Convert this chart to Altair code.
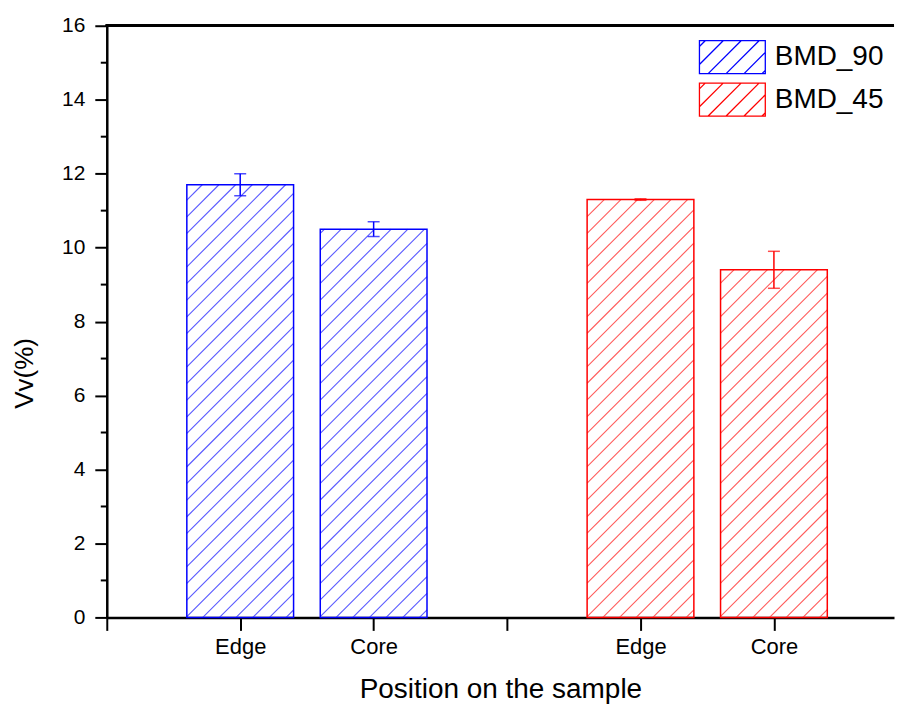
import math
import altair as alt
import pandas as pd

# ---- data ----
series = ["BMD_90", "BMD_90", "BMD_45", "BMD_45"]
position = ["Edge", "Core", "Edge", "Core"]
xpos = [1, 2, 4, 5]
values = [11.7, 10.5, 11.3, 9.4]
errors = [0.3, 0.2, 0.02, 0.5]

x_tick_values = [0, 1, 2, 3, 4, 5]
y_tick_values = [0, 2, 4, 6, 8, 10, 12, 14, 16]
y_minor_values = [1, 3, 5, 7, 9, 11, 13, 15]
series_order = ["BMD_90", "BMD_45"]
series_colors = ["#0000ff", "#ff0000"]
hatch_colors = ["#5a5aff", "#ff5a5a"]

# ---- layout constants ----
PX = 802 / 6          # pixels per x unit
PY = 593 / 16         # pixels per y unit
XMAX, YMAX = 5.9, 16
W, H = round(XMAX * PX), round(YMAX * PY)
HALF = 0.4
SPACING = 16.7
PHASE = 4.0

bars = pd.DataFrame({
    "series": series, "position": position, "xpos": xpos,
    "value": values, "err": errors,
})
bars["x0"] = bars["xpos"] - HALF
bars["x1"] = bars["xpos"] + HALF
bars["zero"] = 0.0
bars["lo"] = bars["value"] - bars["err"]
bars["hi"] = bars["value"] + bars["err"]

# hatch segments (45 degree lines) clipped to each bar
rows = []
for _, b in bars.iterrows():
    u0, u1, T = b["x0"] * PX, b["x1"] * PX, b["value"] * PY
    col = hatch_colors[series_order.index(b["series"])]
    kmin = math.floor((-u1 - PHASE) / SPACING)
    kmax = math.ceil((T - u0 - PHASE) / SPACING)
    for k in range(kmin, kmax + 1):
        c = k * SPACING + PHASE
        us = max(u0, -c)
        ue = min(u1, T - c)
        if ue > us + 0.5:
            rows.append({"hx": us / PX, "hy": (us + c) / PY,
                         "hx2": ue / PX, "hy2": (ue + c) / PY, "col": col})
hatch = pd.DataFrame(rows)

# legend symbol: rectangle with diagonal hatch (unit path)
segs = ["M-2,-1H2V1H-2Z"]
step = 1.09
c = -3.0 + 0.35
while c < 3.0:
    xa, xb = max(-2, c - 1), min(2, c + 1)
    if xb - xa > 0.05:
        segs.append(f"M{xa:.3f},{(-xa + c):.3f}L{xb:.3f},{(-xb + c):.3f}")
    c += step
legend_path = "".join(segs)

FONT = "Liberation Sans"

xscale = alt.Scale(domain=[0, XMAX], nice=False, zero=False)
yscale = alt.Scale(domain=[0, YMAX], nice=False)

x_axis = alt.Axis(
    values=x_tick_values,
    labelExpr="datum.value == 1 || datum.value == 4 ? 'Edge' : (datum.value == 2 || datum.value == 5 ? 'Core' : '')",
    tickSize=13, tickWidth=2, domainWidth=2.5, labelFontSize=22,
    labelPadding=6, title="Position on the sample", titleFontSize=28,
    titlePadding=18, labelFlush=False, labelAngle=0,
)
y_axis = alt.Axis(
    values=y_tick_values, tickSize=12, tickWidth=2, domainWidth=2.5,
    labelFontSize=21, labelPadding=10, title="Vv(%)", titleFontSize=26,
    titleX=-74, titleY=348, titleAngle=-90, titleBaseline="alphabetic",
    titleAlign="center", labelFlush=False,
)

hatch_layer = alt.Chart(hatch).mark_rule(strokeWidth=1.1).encode(
    x=alt.X("hx:Q", scale=xscale, axis=x_axis),
    y=alt.Y("hy:Q", scale=yscale, axis=y_axis),
    x2="hx2:Q",
    y2="hy2:Q",
    color=alt.Color("col:N", scale=None, legend=None),
)

bar_layer = alt.Chart(bars).mark_rect(filled=False, strokeWidth=1.5).encode(
    x=alt.X("x0:Q", scale=xscale, axis=x_axis),
    x2="x1:Q",
    y=alt.Y("value:Q", scale=yscale, axis=y_axis),
    y2="zero:Q",
    color=alt.Color(
        "series:N",
        scale=alt.Scale(domain=series_order, range=series_colors),
        legend=alt.Legend(
            title=None, orient="none", legendX=609.5, legendY=14,
            symbolType=legend_path, symbolSize=1089, symbolStrokeWidth=1.3,
            labelFontSize=28, labelFont=FONT, labelColor="black",
            labelOffset=25, rowPadding=3.5, padding=0, labelLimit=300,
        ),
    ),
)

err_layer = alt.Chart(bars).mark_rule(strokeWidth=1.5).encode(
    x=alt.X("xpos:Q", scale=xscale, axis=x_axis),
    y=alt.Y("lo:Q", scale=yscale, axis=y_axis),
    y2="hi:Q",
    stroke=alt.Stroke("series:N", scale=alt.Scale(domain=series_order, range=series_colors), legend=None),
)

cap_hi = alt.Chart(bars).mark_tick(orient="horizontal", size=12, thickness=1.5).encode(
    x=alt.X("xpos:Q", scale=xscale, axis=x_axis),
    y=alt.Y("hi:Q", scale=yscale, axis=y_axis),
    color=alt.Color("series:N", scale=alt.Scale(domain=series_order, range=series_colors), legend=None),
)
cap_lo = alt.Chart(bars).mark_tick(orient="horizontal", size=12, thickness=1.5).encode(
    x=alt.X("xpos:Q", scale=xscale, axis=x_axis),
    y=alt.Y("lo:Q", scale=yscale, axis=y_axis),
    color=alt.Color("series:N", scale=alt.Scale(domain=series_order, range=series_colors), legend=None),
)

minor = pd.DataFrame({"m": y_minor_values})
minor_layer = alt.Chart(minor).mark_rule(color="black", strokeWidth=2).encode(
    y=alt.Y("m:Q", scale=yscale, axis=y_axis),
    x=alt.value(-6),
    x2=alt.value(0),
)

top_line = alt.Chart(minor).mark_rule(color="black", strokeWidth=2.5).encode(
    x=alt.value(-1), x2=alt.value(W), y=alt.value(0),
)

chart = alt.layer(
    hatch_layer, bar_layer, err_layer, cap_hi, cap_lo, minor_layer, top_line
).resolve_scale(
    color="independent", stroke="independent"
).properties(
    width=W, height=H,
    padding={"left": 4, "top": 6, "right": 0, "bottom": 0},
).configure_view(
    stroke=None
).configure_axis(
    labelFont=FONT, titleFont=FONT, labelColor="black", titleColor="black",
    domainColor="black", tickColor="black", grid=False, titleFontWeight="normal",
)

chart.save("out.html", embed_options={"renderer": "svg", "actions": False})
